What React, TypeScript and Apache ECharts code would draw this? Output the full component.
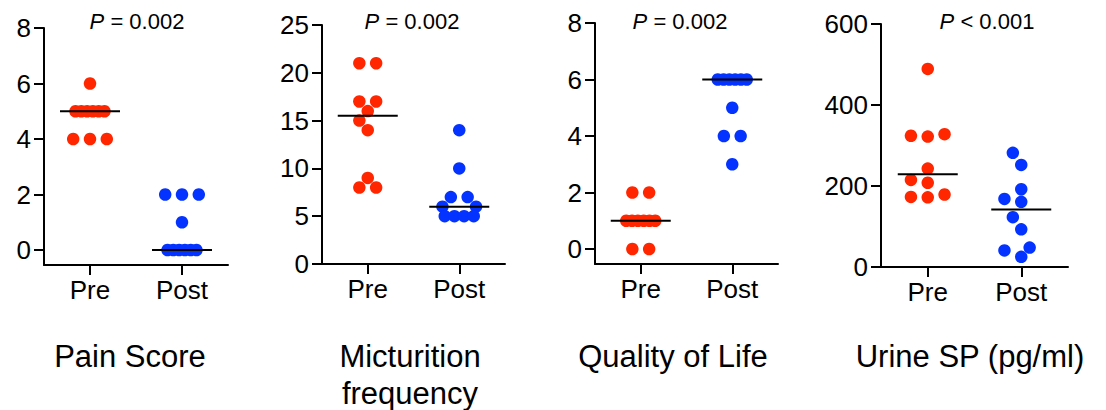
import React, { useEffect, useRef } from "react";
import * as echarts from "echarts";

// Group labels on every x axis
const groups = ["Pre", "Post"];

// Individual patient values, before and after treatment
const painPre = [6, 5, 5, 5, 5, 5, 5, 4, 4, 4];
const painPost = [2, 2, 2, 1, 0, 0, 0, 0, 0, 0];
const mictPre = [21, 21, 17, 17, 16, 15, 14, 9, 8, 8];
const mictPost = [14, 10, 7, 7, 6, 6, 5, 5, 5, 5];
const qolPre = [2, 2, 1, 1, 1, 1, 1, 1, 0, 0];
const qolPost = [6, 6, 6, 6, 6, 6, 5, 4, 4, 3];
const spPre = [489, 328, 324, 322, 243, 215, 208, 179, 173, 172];
const spPost = [282, 252, 192, 168, 161, 123, 93, 48, 41, 25];

// Y tick labels
const painTicks = [0, 2, 4, 6, 8];
const mictTicks = [0, 5, 10, 15, 20, 25];
const qolTicks = [0, 2, 4, 6, 8];
const spTicks = [0, 200, 400, 600];

// Significance annotations and panel names
const pSigns = ["=", "=", "=", "<"];
const pValues = ["0.002", "0.002", "0.002", "0.001"];
const panelNames = ["Pain Score", "Micturition\nfrequency", "Quality of Life", "Urine SP (pg/ml)"];

const FONT = '"Liberation Sans", Arial, Helvetica, sans-serif';
const RED = "#FF2600";
const BLUE = "#0433FF";
const DOT = 12.5;

const panels = [
  { pre: painPre, post: painPost, ticks: painTicks, min: -0.54, max: 8, grid: { left: 44, top: 28, width: 184, height: 237 }, pX: 137, nameX: 130 },
  { pre: mictPre, post: mictPost, ticks: mictTicks, min: 0, max: 25, grid: { left: 322, top: 25, width: 183, height: 239 }, pX: 412, nameX: 410 },
  { pre: qolPre, post: qolPost, ticks: qolTicks, min: -0.53, max: 8, grid: { left: 595, top: 23, width: 183, height: 241 }, pX: 680, nameX: 673 },
  { pre: spPre, post: spPost, ticks: spTicks, min: 0, max: 600, grid: { left: 881, top: 24, width: 187, height: 243 }, pX: 987, nameX: 970 },
];

function median(arr: number[]): number {
  const s = [...arr].sort((a, b) => a - b);
  const m = s.length >> 1;
  return s.length % 2 ? s[m] : (s[m - 1] + s[m]) / 2;
}

// Column-scatter layout: horizontal pixel offsets for each point so that
// tied / close values spread sideways instead of piling up.
const SLOT = 8.4;
const DENSE_HALF = 14.5;
const MIN_DIST = 13;
function swarm(values: number[], pxPerUnit: number): number[] {
  const order = values.map((_, i) => i).sort((a, b) => values[a] - values[b]);
  const ties: number[][] = [];
  for (const i of order) {
    const last = ties[ties.length - 1];
    if (last && values[last[0]] === values[i]) last.push(i);
    else ties.push([i]);
  }
  const placed: { x: number; y: number }[] = [];
  const out = new Array(values.length).fill(0);
  for (const g of ties) {
    const k = g.length;
    const y = values[g[0]] * pxPerUnit;
    let cands: number[][];
    if (k === 1) cands = [[0], [-1], [1], [-2], [2]].map((c) => c.map((s) => s * SLOT));
    else if (k === 2) cands = [[-1, 1], [-2, 2]].map((c) => c.map((s) => s * SLOT));
    else if (k === 3) cands = [[-2, 0, 2].map((s) => s * SLOT)];
    else cands = [Array.from({ length: k }, (_, j) => -DENSE_HALF + (j * 2 * DENSE_HALF) / (k - 1))];
    let best = cands[0];
    let bestCost = Infinity;
    for (const c of cands) {
      let pen = 0;
      for (const x of c)
        for (const p of placed) {
          const d = Math.hypot(x - p.x, y - p.y);
          if (d < MIN_DIST) pen += MIN_DIST - d;
        }
      const cost = pen * 10 + c.reduce((s, x) => s + Math.abs(x), 0) / k;
      if (cost < bestCost - 1e-9) {
        bestCost = cost;
        best = c;
      }
    }
    g.forEach((i, j) => {
      out[i] = best[j];
      placed.push({ x: best[j], y });
    });
  }
  return out;
}

function buildOption() {
  const grid: any[] = [];
  const xAxis: any[] = [];
  const yAxis: any[] = [];
  const series: any[] = [];
  const graphic: any[] = [];

  panels.forEach((pn, i) => {
    grid.push({ ...pn.grid, containLabel: false });
    xAxis.push({
      gridIndex: i,
      type: "value",
      min: 0,
      max: 2,
      axisLine: { show: true, onZero: false, lineStyle: { color: "#000", width: 2 } },
      axisTick: { show: true, customValues: [0.5, 1.5], length: 10, lineStyle: { color: "#000", width: 2 } },
      axisLabel: {
        customValues: [0.5, 1.5],
        formatter: (v: number) => groups[Math.round(v - 0.5)],
        fontSize: 26,
        fontFamily: FONT,
        color: "#000",
        margin: 12,
      },
      splitLine: { show: false },
    });
    yAxis.push({
      gridIndex: i,
      type: "value",
      min: pn.min,
      max: pn.max,
      axisLine: { show: true, onZero: false, lineStyle: { color: "#000", width: 2 } },
      axisTick: { show: true, customValues: pn.ticks, length: 10, lineStyle: { color: "#000", width: 2 } },
      axisLabel: {
        customValues: pn.ticks,
        fontSize: 26,
        fontFamily: FONT,
        color: "#000",
        margin: 13,
      },
      splitLine: { show: false },
    });

    const pxPerUnit = pn.grid.height / (pn.max - pn.min);
    const pxPerX = pn.grid.width / 2;
    [pn.pre, pn.post].forEach((vals, gi) => {
      const off = swarm(vals, pxPerUnit);
      series.push({
        type: "scatter",
        xAxisIndex: i,
        yAxisIndex: i,
        symbol: "circle",
        symbolSize: DOT,
        itemStyle: { color: gi === 0 ? RED : BLUE, opacity: 1 },
        z: 2,
        data: vals.map((v, j) => [0.5 + gi + off[j] / pxPerX, v]),
      });
    });

    series.push({
      type: "custom",
      xAxisIndex: i,
      yAxisIndex: i,
      z: 5,
      renderItem: (_: any, api: any) => {
        const p = api.coord([api.value(0), api.value(1)]);
        return {
          type: "line",
          shape: { x1: p[0] - 30, y1: p[1], x2: p[0] + 30, y2: p[1] },
          style: { stroke: "#000", lineWidth: 2 },
        };
      },
      data: [
        [0.5, median(pn.pre)],
        [1.5, median(pn.post)],
      ],
    });

    graphic.push({
      type: "text",
      x: pn.pX,
      y: 21,
      style: {
        text: `{i|P}{t| ${pSigns[i]} ${pValues[i]}}`,
        align: "center",
        verticalAlign: "middle",
        fontSize: 22,
        fontFamily: FONT,
        fill: "#000",
        rich: {
          i: { fontStyle: "italic", fontSize: 22, fontFamily: FONT, fill: "#000" },
          t: { fontSize: 22, fontFamily: FONT, fill: "#000" },
        },
      },
    });
    graphic.push({
      type: "text",
      x: pn.nameX,
      y: 338,
      style: {
        text: panelNames[i],
        align: "center",
        verticalAlign: "top",
        fontSize: 31,
        lineHeight: 37,
        fontFamily: FONT,
        fill: "#000",
      },
    });
  });

  return { animation: false, backgroundColor: "#fff", grid, xAxis, yAxis, series, graphic };
}

export default function App() {
  const ref = useRef<HTMLDivElement>(null);
  useEffect(() => {
    document.body.style.margin = "0";
    if (!ref.current) return;
    const chart = echarts.init(ref.current, undefined, { renderer: "svg" });
    chart.setOption(buildOption());
    return () => chart.dispose();
  }, []);
  return <div ref={ref} style={{ width: 1106, height: 410 }} />;
}
